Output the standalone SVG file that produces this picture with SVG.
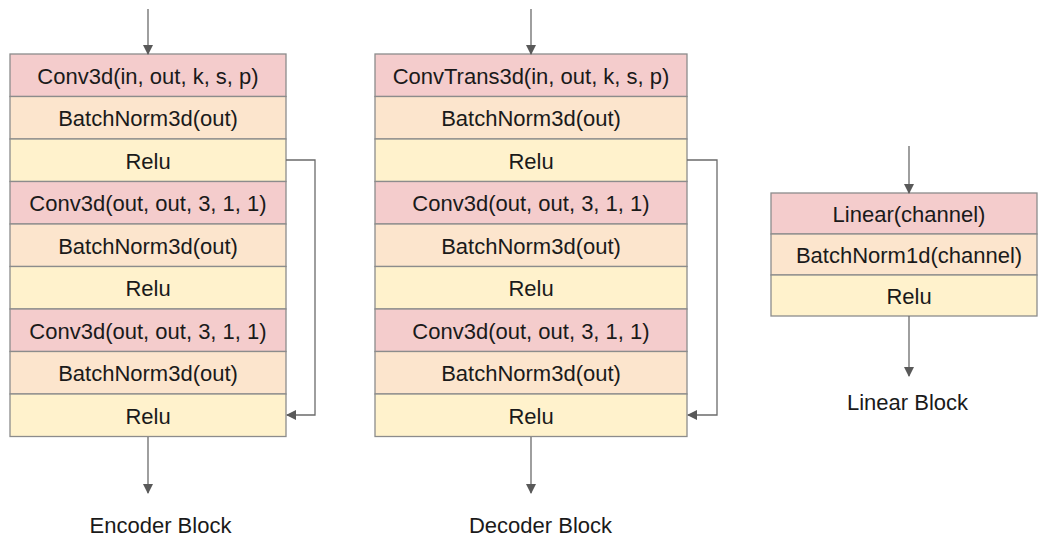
<svg xmlns="http://www.w3.org/2000/svg" width="1038" height="540" viewBox="0 0 1038 540">
  <defs>
    <marker id="arrow" markerWidth="10" markerHeight="10" refX="9" refY="5" orient="auto" markerUnits="userSpaceOnUse">
      <path d="M0,0 L10,5 L0,10 Z" fill="#595959"/>
    </marker>
    <style>
      .conv { fill: #f4cccc; stroke: #8c8c8c; stroke-width: 1.3; }
      .bn { fill: #fce5cd; stroke: #8c8c8c; stroke-width: 1.3; }
      .relu { fill: #fff2cc; stroke: #8c8c8c; stroke-width: 1.3; }
      text { font-family: "Liberation Sans", Arial, sans-serif; font-size: 22px; fill: #1a1a1a; text-anchor: middle; }
      .edge { fill: none; stroke: #6b6b6b; stroke-width: 1.3; marker-end: url(#arrow); }
    </style>
  </defs>
  <rect width="1038" height="540" fill="#ffffff"/>

  <!-- Encoder block -->
  <g id="encoder">
    <rect class="conv" x="10" y="54" width="276" height="42.5"/>
    <rect class="bn" x="10" y="96.5" width="276" height="42.5"/>
    <rect class="relu" x="10" y="139" width="276" height="42.5"/>
    <rect class="conv" x="10" y="181.5" width="276" height="42.5"/>
    <rect class="bn" x="10" y="224" width="276" height="42.5"/>
    <rect class="relu" x="10" y="266.5" width="276" height="42.5"/>
    <rect class="conv" x="10" y="309" width="276" height="42.5"/>
    <rect class="bn" x="10" y="351.5" width="276" height="42.5"/>
    <rect class="relu" x="10" y="394" width="276" height="42.5"/>
    <text x="148" y="83.5">Conv3d(in, out, k, s, p)</text>
    <text x="148" y="126">BatchNorm3d(out)</text>
    <text x="148" y="168.5">Relu</text>
    <text x="148" y="211">Conv3d(out, out, 3, 1, 1)</text>
    <text x="148" y="253.5">BatchNorm3d(out)</text>
    <text x="148" y="296">Relu</text>
    <text x="148" y="338.5">Conv3d(out, out, 3, 1, 1)</text>
    <text x="148" y="381">BatchNorm3d(out)</text>
    <text x="148" y="423.5">Relu</text>
  </g>
  <g id="encoder-label">
    <text x="160.5" y="533">Encoder Block</text>
  </g>

  <!-- Decoder block -->
  <g id="decoder">
    <rect class="conv" x="375" y="54" width="312" height="42.5"/>
    <rect class="bn" x="375" y="96.5" width="312" height="42.5"/>
    <rect class="relu" x="375" y="139" width="312" height="42.5"/>
    <rect class="conv" x="375" y="181.5" width="312" height="42.5"/>
    <rect class="bn" x="375" y="224" width="312" height="42.5"/>
    <rect class="relu" x="375" y="266.5" width="312" height="42.5"/>
    <rect class="conv" x="375" y="309" width="312" height="42.5"/>
    <rect class="bn" x="375" y="351.5" width="312" height="42.5"/>
    <rect class="relu" x="375" y="394" width="312" height="42.5"/>
    <text x="531" y="83.5">ConvTrans3d(in, out, k, s, p)</text>
    <text x="531" y="126">BatchNorm3d(out)</text>
    <text x="531" y="168.5">Relu</text>
    <text x="531" y="211">Conv3d(out, out, 3, 1, 1)</text>
    <text x="531" y="253.5">BatchNorm3d(out)</text>
    <text x="531" y="296">Relu</text>
    <text x="531" y="338.5">Conv3d(out, out, 3, 1, 1)</text>
    <text x="531" y="381">BatchNorm3d(out)</text>
    <text x="531" y="423.5">Relu</text>
  </g>
  <g id="decoder-label">
    <text x="540.5" y="533">Decoder Block</text>
  </g>

  <!-- Linear block -->
  <g id="linear">
    <rect class="conv" x="771" y="193" width="266" height="41"/>
    <rect class="bn" x="771" y="234" width="266" height="41"/>
    <rect class="relu" x="771" y="275" width="266" height="41"/>
    <text x="909" y="221.5">Linear(channel)</text>
    <text x="909" y="262.5">BatchNorm1d(channel)</text>
    <text x="909" y="303.5">Relu</text>
  </g>
  <g id="linear-label">
    <text x="907.5" y="410">Linear Block</text>
  </g>

  <!-- Connectors -->
  <g id="connectors">
    <line class="edge" x1="148" y1="9" x2="148" y2="54"/>
    <line class="edge" x1="148" y1="437" x2="148" y2="493"/>
    <polyline class="edge" points="286,160 315,160 315,415 287,415"/>
    <line class="edge" x1="531" y1="9" x2="531" y2="54"/>
    <line class="edge" x1="531" y1="437" x2="531" y2="493"/>
    <polyline class="edge" points="687,160 717,160 717,415 688,415"/>
    <line class="edge" x1="909" y1="146" x2="909" y2="193"/>
    <line class="edge" x1="909" y1="316" x2="909" y2="376"/>
  </g>
</svg>
